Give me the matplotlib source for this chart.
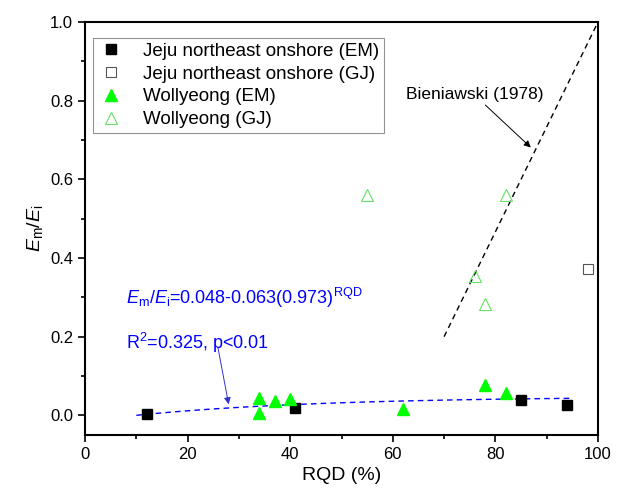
import numpy as np
import matplotlib
matplotlib.use("Agg")
import matplotlib.pyplot as plt

plt.rcParams['font.family'] = ['Liberation Sans', 'DejaVu Sans']
plt.rcParams['mathtext.fontset'] = 'custom'
plt.rcParams['mathtext.rm'] = 'Liberation Sans'
plt.rcParams['mathtext.it'] = 'Liberation Sans:italic'

# data
jeju_em_rqd = [12, 41, 85, 94]
jeju_em_ratio = [0.004, 0.018, 0.038, 0.027]

jeju_gj_rqd = [98]
jeju_gj_ratio = [0.373]

woll_em_rqd = [34, 34, 37, 40, 62, 78, 82]
woll_em_ratio = [0.044, 0.007, 0.036, 0.041, 0.017, 0.078, 0.057]

woll_gj_rqd = [55, 76, 78, 82]
woll_gj_ratio = [0.559, 0.354, 0.284, 0.560]

# Bieniawski (1978) line end points
bien_rqd = [70, 100]
bien_ratio = [0.2, 1.0]

# fitted curve Em/Ei = a - b * c**RQD
fit_a, fit_b, fit_c = 0.048, 0.063, 0.973
fit_rqd = np.linspace(10, 95, 100)
fit_ratio = fit_a - fit_b * fit_c ** fit_rqd

fig = plt.figure(figsize=(6.22, 4.98), dpi=100)
ax = fig.add_axes([0.1367, 0.1265, 0.8247, 0.8293])

ax.plot(fit_rqd, fit_ratio, color='blue', ls=(0, (4, 3)), lw=1.0)
ax.plot(bien_rqd, bien_ratio, color='black', ls=(0, (4, 3)), lw=1.0)

ax.plot(jeju_em_rqd, jeju_em_ratio, ls='none', marker='s', ms=6.5, mfc='black', mec='black',
        label='Jeju northeast onshore (EM)')
ax.plot(jeju_gj_rqd, jeju_gj_ratio, ls='none', marker='s', ms=6.5, mfc='white', mec='#555555',
        mew=0.8, label='Jeju northeast onshore (GJ)')
ax.plot(woll_em_rqd, woll_em_ratio, ls='none', marker='^', ms=8.5, mfc='#00ff00', mec='#00ff00',
        label='Wollyeong (EM)')
ax.plot(woll_gj_rqd, woll_gj_ratio, ls='none', marker='^', ms=8.5, mfc='none', mec='#66e066',
        mew=0.8, label='Wollyeong (GJ)')

ax.set_xlim(0, 100)
ax.set_ylim(-0.05, 1.0)
ax.set_xticks(np.arange(0, 101, 20))
ax.set_xticks(np.arange(10, 100, 20), minor=True)
ax.set_yticks(np.arange(0, 1.01, 0.2))
ax.set_yticks(np.arange(0.1, 1.0, 0.2), minor=True)
ax.yaxis.set_major_formatter(matplotlib.ticker.FormatStrFormatter('%.1f'))
ax.tick_params(which='major', direction='out', length=5, width=1.2, labelsize=12, colors='black')
ax.tick_params(which='minor', direction='out', length=3, width=1.2)
for s in ax.spines.values():
    s.set_linewidth(1.5)

ax.set_xlabel('RQD (%)', fontsize=14)
ax.set_ylabel(r'$E_{\rm m}/E_{\rm i}$', fontsize=14)

leg = ax.legend(loc='upper left', bbox_to_anchor=(0.0156, 0.961), fontsize=13.5, frameon=True,
                fancybox=False, edgecolor='#777777', handlelength=1.4, handletextpad=1.0,
                borderpad=0.25, labelspacing=0.3, borderaxespad=0)
leg.get_frame().set_linewidth(0.8)

ax.annotate('Bieniawski (1978)', xy=(86.9, 0.681), xytext=(62.5, 0.815), fontsize=12.5,
            arrowprops=dict(arrowstyle='-|>', color='black', lw=0.7, shrinkA=0, shrinkB=0,
                            mutation_scale=10),
            ha='left', va='center')
ax.annotate('', xy=(28.0, 0.028), xytext=(25.9, 0.173),
            arrowprops=dict(arrowstyle='-|>', color='#3333cc', lw=0.7, shrinkA=0, shrinkB=0,
                            mutation_scale=10))
ax.text(8.0, 0.298, r'$E_{\rm m}$/$E_{\rm i}$=0.048-0.063(0.973)$^{\rm RQD}$', color='blue',
        fontsize=13, ha='left', va='center')
ax.text(8.0, 0.183, r'R$^{\rm 2}$=0.325, p<0.01', color='blue', fontsize=13, ha='left',
        va='center')

fig.savefig('out.png', dpi=100)
